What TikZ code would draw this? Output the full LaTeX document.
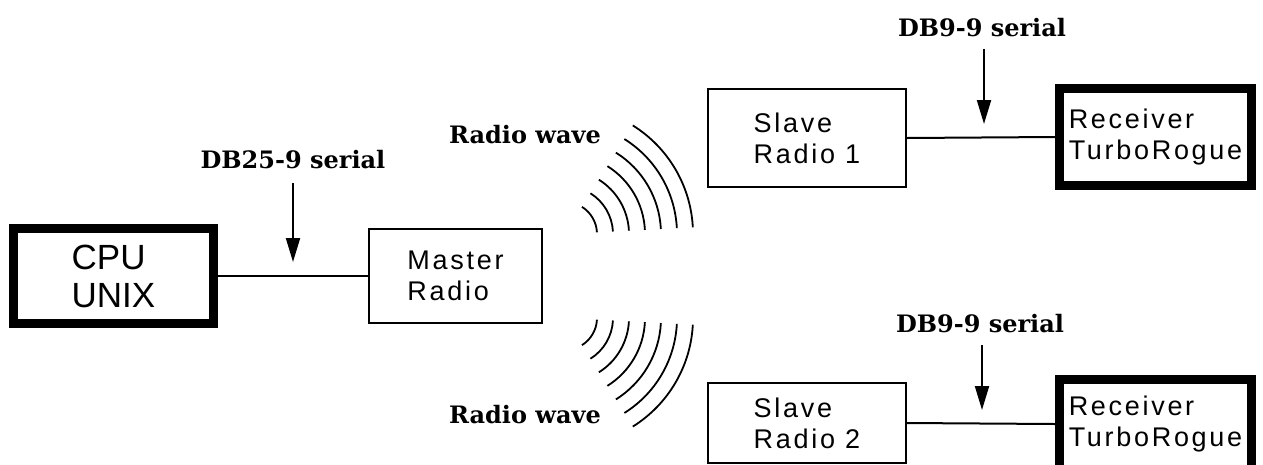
\documentclass[tikz,border=0pt]{standalone}
\usepackage{fontspec}
\newfontfamily\boxfont{Liberation Sans}[LetterSpace=10]
\newfontfamily\bigboxfont{Liberation Sans}
\newfontfamily\tagfont{DejaVu Serif}
\usetikzlibrary{arrows.meta, positioning}

\begin{document}
\begin{tikzpicture}[
    x=1pt, y=-1pt,
    radio/.style={draw, line width=2pt, align=left, font=\boxfont\fontsize{27}{31}\selectfont},
    host/.style={draw, line width=9pt, align=left},
    tag/.style={font=\tagfont\bfseries\fontsize{24}{28}\selectfont, inner sep=0pt},
    wire/.style={line width=2pt},
    tap/.style={line width=2pt, -{Triangle[length=24pt, width=14pt]}},
    wave/.style={line width=1.8pt},
]
    \useasboundingbox (0,0) rectangle (1263,464);
    \clip (0,0) rectangle (1263,464);

    % host and master
    \node[host, minimum width=200, minimum height=95, font=\bigboxfont\fontsize{35}{38}\selectfont] (cpu) at (113.5,276) {CPU\\UNIX};
    \node[radio, minimum width=173, minimum height=94] (master) at (455.5,276) {Master\\Radio};
    \draw[wire] (cpu.east) -- (master.west);

    % slaves and receivers
    \node[radio, minimum width=198, minimum height=98] (slave1) at (807,138) {Slave\\Radio 1};
    \node[host, radio, line width=9pt, minimum width=192, minimum height=97] (recv1) at (1155.5,137) {Receiver\\TurboRogue};
    \draw[wire] (slave1.east) -- (recv1.west);

    \node[radio, minimum width=198, minimum height=80] (slave2) at (807,423) {Slave\\Radio 2};
    \node[host, radio, line width=9pt, minimum width=192, minimum height=90] (recv2) at (1155.5,424) {Receiver\\TurboRogue};
    \draw[wire] (slave2.east) -- (recv2.west);

    % cable labels
    \node[tag] (db25) at (293,160) {DB25-9 serial};
    \coordinate (tapA) at (293,262);
    \draw[tap] (db25.south) ++(0,14) -- (tapA);

    \node[tag] (db9a) at (982,28) {DB9-9 serial};
    \coordinate (tapB) at (984,124);
    \draw[tap] (db9a.south) ++(2,12) -- (tapB);

    \node[tag] (db9b) at (980,324) {DB9-9 serial};
    \coordinate (tapC) at (982,410);
    \draw[tap] (db9b.south) ++(2,12) -- (tapC);

    % radio waves
    \node[tag] (waveA) at (525,135) {Radio wave};
    \node[tag] (waveB) at (525,415) {Radio wave};
    \coordinate (waveUp) at (565,234);
    \coordinate (waveDn) at (565,318);
    \foreach \r in {32,48,...,128} {
        \draw[wave] (waveUp) ++(-3:\r) arc[start angle=-3, end angle=-58, radius=\r];
        \draw[wave] (waveDn) ++(3:\r) arc[start angle=3, end angle=58, radius=\r];
    }
\end{tikzpicture}
\end{document}
